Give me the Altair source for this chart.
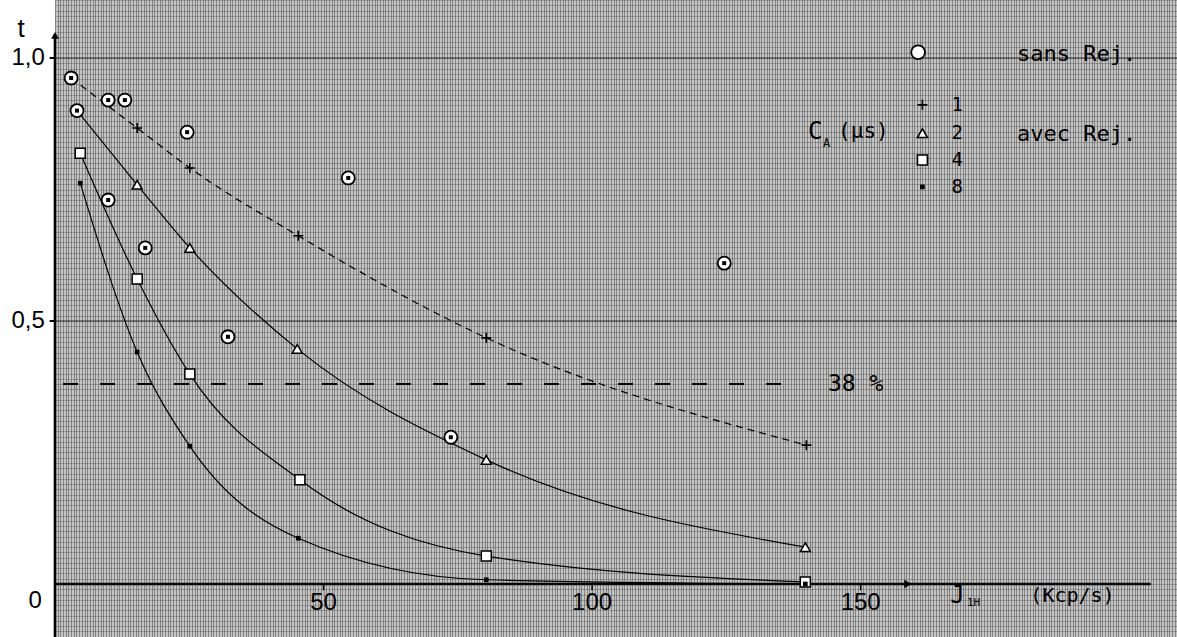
import altair as alt
import pandas as pd

# ---- data ----
# C_A = 1 (+), 2 (triangle), 4 (square), 8 (dot)  -- "avec Rej."
plus_x = [3.0, 15.3, 25.1, 45.3, 80.3, 139.9]
plus_y = [0.962, 0.867, 0.791, 0.662, 0.468, 0.264]
tri_x = [4.1, 15.3, 25.1, 45.1, 80.3, 139.7]
tri_y = [0.900, 0.759, 0.639, 0.447, 0.236, 0.070]
sq_x = [4.7, 15.3, 25.1, 45.6, 80.3, 139.7]
sq_y = [0.819, 0.580, 0.399, 0.198, 0.053, 0.004]
dot_x = [4.7, 15.3, 25.1, 45.3, 80.3, 139.7]
dot_y = [0.762, 0.441, 0.262, 0.087, 0.008, 0.0]
# "sans Rej." circled points
circ_x = [3.0, 4.1, 9.9, 13.0, 9.9, 16.8, 24.6, 32.2, 54.6, 73.7, 124.6]
circ_y = [0.962, 0.900, 0.920, 0.920, 0.730, 0.639, 0.859, 0.470, 0.772, 0.279, 0.610]

level_value = 0.38
level_label = "38 %"
x_tick_values = [50, 100, 150]
x_tick_labels = ["50", "100", "150"]
y_tick_values = [0.5, 1.0]
y_tick_labels = ["0,5", "1,0"]
legend_codes = ["1", "2", "4", "8"]
x_title = "(Kcp/s)"
y_title = "t"

X_MAX = 208.9
Y_MIN = -0.1008
Y_MAX = 1.1103

xscale = alt.Scale(domain=[0, X_MAX], nice=False, zero=False)
yscale = alt.Scale(domain=[Y_MIN, Y_MAX], nice=False, zero=False)
xaxis = alt.Axis(values=[i / 2 for i in range(0, 418)], grid=True, labels=False, ticks=False,
                 domain=False, title=None)
yaxis = alt.Axis(values=[i / 100 for i in range(-10, 112)], grid=True, labels=False,
                 ticks=False, domain=False, title=None)


def X(f="x"):
    return alt.X(f, type="quantitative", scale=xscale, axis=xaxis)


def Y(f="y"):
    return alt.Y(f, type="quantitative", scale=yscale, axis=yaxis)


def df(xs, ys):
    return pd.DataFrame({"x": xs, "y": ys})


layers = []

# darker major lines of the graph paper
major_df = pd.DataFrame({"x": [0.0, 0.0], "x2": [X_MAX, X_MAX], "y": y_tick_values})
layers.append(alt.Chart(major_df).mark_rule(color="#333333", strokeWidth=1.3, opacity=0.7).encode(
    x=X(), x2="x2:Q", y=Y()))

# axes lines
yaxis_df = pd.DataFrame({"x": [0], "y": [Y_MIN], "y2": [1.045]})
layers.append(alt.Chart(yaxis_df).mark_rule(color="black", strokeWidth=2.6).encode(
    x=X(), y=Y(), y2="y2:Q"))
xaxis_df = pd.DataFrame({"x": [0], "x2": [204.0], "y": [0]})
layers.append(alt.Chart(xaxis_df).mark_rule(color="black", strokeWidth=2.6).encode(
    x=X(), x2="x2:Q", y=Y()))
layers.append(alt.Chart(pd.DataFrame({"x": [0], "y": [1.043]})).mark_point(
    shape="triangle-up", size=60, filled=True, color="black", opacity=1).encode(x=X(), y=Y()))
layers.append(alt.Chart(pd.DataFrame({"x": [158.8], "y": [0]})).mark_point(
    shape="triangle-right", size=70, filled=True, color="black", opacity=1).encode(x=X(), y=Y()))

# y ticks
ytick_df = pd.DataFrame({"x": [-1.0] * 2, "x2": [0.0] * 2, "y": y_tick_values})
layers.append(alt.Chart(ytick_df).mark_rule(color="black", strokeWidth=2).encode(
    x=X(), x2="x2:Q", y=Y()))
# x ticks
xtick_df = pd.DataFrame({"x": x_tick_values, "y": [0.0] * 3, "y2": [-0.012] * 3})
layers.append(alt.Chart(xtick_df).mark_rule(color="black", strokeWidth=1.5).encode(
    x=X(), y=Y(), y2="y2:Q"))

# 38 % dashed level
lvl_df = pd.DataFrame({"x": [1.5], "x2": [136.9], "y": [level_value]})
layers.append(alt.Chart(lvl_df).mark_rule(color="black", strokeWidth=2,
                                          strokeDash=[15, 22]).encode(
    x=X(), x2="x2:Q", y=Y()))

# curves
layers.append(alt.Chart(df(plus_x, plus_y)).mark_line(
    color="black", strokeWidth=1.2, interpolate="monotone", strokeDash=[7, 5]).encode(x=X(), y=Y()))
for xs, ys in [(tri_x, tri_y), (sq_x, sq_y), (dot_x, dot_y)]:
    layers.append(alt.Chart(df(xs, ys)).mark_line(
        color="black", strokeWidth=1.2, interpolate="monotone").encode(x=X(), y=Y()))

# markers
plus_shape = "M-1,0H1M0,-1V1"
layers.append(alt.Chart(df(plus_x, plus_y)).mark_point(
    shape=plus_shape, size=100, stroke="black", strokeWidth=1.6, filled=False,
    opacity=1).encode(x=X(), y=Y()))
layers.append(alt.Chart(df(tri_x, tri_y)).mark_point(
    shape="triangle-up", size=100, filled=True, fill="white", stroke="black",
    strokeWidth=1.5, opacity=1).encode(x=X(), y=Y()))
layers.append(alt.Chart(df(sq_x, sq_y)).mark_point(
    shape="square", size=100, filled=True, fill="white", stroke="black",
    strokeWidth=1.5, opacity=1).encode(x=X(), y=Y()))
layers.append(alt.Chart(df(dot_x, dot_y)).mark_point(
    shape="square", size=22, filled=True, color="black", opacity=1).encode(x=X(), y=Y()))
layers.append(alt.Chart(df(circ_x, circ_y)).mark_point(
    shape="circle", size=170, filled=True, fill="white", stroke="black",
    strokeWidth=1.8, opacity=1).encode(x=X(), y=Y()))
layers.append(alt.Chart(df(circ_x, circ_y)).mark_point(
    shape="square", size=16, filled=True, color="black", opacity=1).encode(x=X(), y=Y()))

# legend symbols
leg_sym_y = [0.911, 0.857, 0.806, 0.755]
leg_x = 161.5
layers.append(alt.Chart(pd.DataFrame({"x": [160.7], "y": [1.011]})).mark_point(
    shape="circle", size=190, filled=True, fill="white", stroke="black",
    strokeWidth=1.8, opacity=1).encode(x=X(), y=Y()))
layers.append(alt.Chart(pd.DataFrame({"x": [leg_x], "y": [leg_sym_y[0]]})).mark_point(
    shape=plus_shape, size=100, stroke="black", strokeWidth=1.6, filled=False,
    opacity=1).encode(x=X(), y=Y()))
layers.append(alt.Chart(pd.DataFrame({"x": [leg_x], "y": [leg_sym_y[1]]})).mark_point(
    shape="triangle-up", size=100, filled=True, fill="white", stroke="black",
    strokeWidth=1.6, opacity=1).encode(x=X(), y=Y()))
layers.append(alt.Chart(pd.DataFrame({"x": [leg_x], "y": [leg_sym_y[2]]})).mark_point(
    shape="square", size=100, filled=True, fill="white", stroke="black",
    strokeWidth=1.6, opacity=1).encode(x=X(), y=Y()))
layers.append(alt.Chart(pd.DataFrame({"x": [leg_x], "y": [leg_sym_y[3]]})).mark_point(
    shape="square", size=22, filled=True, color="black", opacity=1).encode(x=X(), y=Y()))


def text_layer(xs, ys, texts, size, align="left", font="Liberation Sans", baseline="middle"):
    d = pd.DataFrame({"x": xs, "y": ys, "t": texts})
    return alt.Chart(d).mark_text(fontSize=size, align=align, baseline=baseline,
                                  font=font, color="black").encode(
        x=X(), y=Y(), text="t:N")


mono = "DejaVu Sans Mono"
layers.append(text_layer([168.0] * 4, leg_sym_y, legend_codes, 19, align="center", font=mono))
layers.append(text_layer([179.1], [1.008], ["sans Rej."], 22, font=mono))
layers.append(text_layer([179.1], [0.856], ["avec Rej."], 22, font=mono))
layers.append(text_layer([140.2], [0.859], ["C"], 24, font=mono))
layers.append(text_layer([143.0], [0.838], ["A"], 12, font=mono))
layers.append(text_layer([145.8], [0.859], ["(µs)"], 21, font=mono))
layers.append(text_layer([143.9], [level_value], [level_label], 23, font=mono))
layers.append(text_layer(x_tick_values, [-0.036] * 3, x_tick_labels, 24, align="center"))
layers.append(text_layer([-3.7], [-0.032], ["0"], 24, align="center"))
layers.append(text_layer([-1.9, -1.9], y_tick_values, y_tick_labels, 24, align="right"))
layers.append(text_layer([-6.3], [1.055], [y_title], 26, align="center"))
layers.append(text_layer([166.7], [-0.022], ["J"], 24, font=mono))
layers.append(text_layer([169.8], [-0.036], ["1H"], 11, font=mono))
layers.append(text_layer([181.6], [-0.022], [x_title], 20, font=mono))

chart = alt.layer(*layers).properties(
    width=1122, height=637,
    autosize=alt.AutoSizeParams(type="none"),
    padding={"left": 55, "top": 0, "right": 0, "bottom": 0},
    background="white",
).configure_view(
    fill="#c4c4c4", stroke=None
).configure_axisX(
    gridColor="#2a2a2a", gridOpacity=0.42, gridWidth=1
).configure_axisY(
    gridColor="#2a2a2a", gridOpacity=0.28, gridWidth=1
)

chart.save("out.html", embed_options={"renderer": "svg", "actions": False})
